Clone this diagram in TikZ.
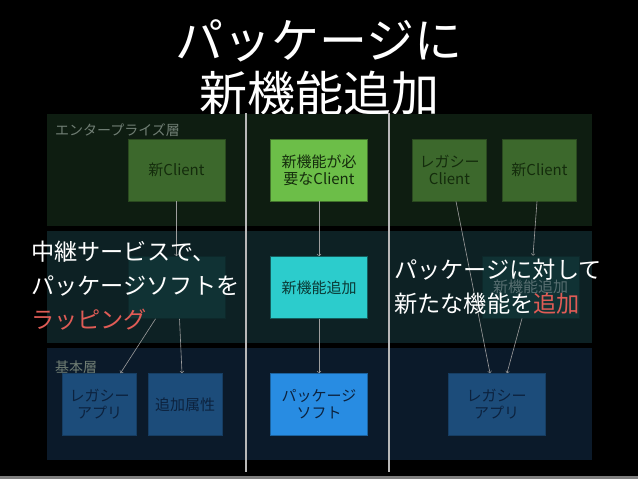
\documentclass[tikz,border=0pt]{standalone}
\usepackage{fontspec}
\setmainfont{Noto Sans CJK JP}
\usetikzlibrary{positioning}
\definecolor{figFond}{RGB}{0,0,0}
\definecolor{figVertCouche}{RGB}{14,29,17}
\definecolor{figTealCouche}{RGB}{13,33,36}
\definecolor{figBleuCouche}{RGB}{11,26,42}
\definecolor{figVertTerne}{RGB}{60,104,44}
\definecolor{figVertVif}{RGB}{108,190,72}
\definecolor{figVertTexte}{RGB}{20,44,12}
\definecolor{figCyan}{RGB}{44,204,204}
\definecolor{figCyanTexte}{RGB}{10,58,54}
\definecolor{figTealTerne}{RGB}{16,50,52}
\definecolor{figBleuTerne}{RGB}{28,76,122}
\definecolor{figBleuVif}{RGB}{40,140,226}
\definecolor{figBleuTexte}{RGB}{12,34,62}
\definecolor{figRouge}{RGB}{224,92,86}
\definecolor{figGris}{RGB}{112,126,116}

\begin{document}
\begin{tikzpicture}[
  x=1pt, y=-1pt, every node/.style={font=\normalsize},
  titre/.style={text=white, font=\fontsize{48}{52}\selectfont, inner sep=0pt},
  couche/.style={minimum width=545, minimum height=112, inner sep=0pt},
  etiq/.style={text=figGris, font=\fontsize{14}{16}\selectfont, anchor=west, inner sep=0pt},
  bloc/.style={minimum width=97, minimum height=62, align=center, inner sep=2pt,
               line width=0.8pt, font=\fontsize{15}{17}\selectfont},
  petit/.style={bloc, minimum width=74},
  fleche/.style={->, line width=0.6pt, draw=white!62!black},
  separ/.style={line width=1.5pt, draw=white!72!black},
  legende/.style={text=white, align=left, anchor=west, inner sep=0pt,
                  font=\fontsize{23.2}{34}\selectfont}
]
\fill[figFond] (0,0) rectangle (638,479);
\fill[white!50!black] (0,476) rectangle (638,479);

\node[titre] (titre1) at (319,41) {パッケージに};
\node[titre] (titre2) at (319,93) {新機能追加};

\node[couche, fill=figVertCouche] (entreprise) at (319.5,170) {};
\node[couche, fill=figTealCouche] (milieu) at (319.5,287) {};
\node[couche, fill=figBleuCouche] (base) at (319.5,404) {};
\node[etiq] (lentreprise) at (55,130) {エンタープライズ層};
\node[etiq] (lbase) at (55,367) {基本層};

\draw[separ] (246,113) -- (246,472);
\draw[separ] (389,113) -- (389,472);

\node[bloc, fill=figVertTerne, draw=figVertTerne!70!black, text=figVertTexte]
     (clientG) at (176.5,170) {新Client};
\node[bloc, fill=figTealTerne, draw=figTealTerne!80!black] (relaisG) at (176.5,287.5) {};
\node[petit, fill=figBleuTerne, draw=figBleuTerne!80!black, text=figBleuTexte]
     (legacyG) at (99.5,404.5) {レガシー\\アプリ};
\node[petit, fill=figBleuTerne, draw=figBleuTerne!80!black, text=figBleuTexte]
     (attrG) at (185,404.5) {追加属性};

\node[bloc, fill=figVertVif, draw=figVertVif!60!black, text=figVertTexte]
     (besoin) at (319,170) {新機能が必\\要なClient};
\node[bloc, fill=figCyan, draw=figCyan!45!black, text=figCyanTexte]
     (ajout) at (319,287.5) {新機能追加};
\node[bloc, fill=figBleuVif, draw=figBleuVif!70!black, text=figBleuTexte]
     (paquet) at (319,404.5) {パッケージ\\ソフト};

\node[petit, fill=figVertTerne, draw=figVertTerne!70!black, text=figVertTexte]
     (legacyClientD) at (449.5,170) {レガシー\\Client};
\node[petit, fill=figVertTerne, draw=figVertTerne!70!black, text=figVertTexte]
     (clientD) at (539.5,170) {新Client};
\node[bloc, fill=figTealTerne, draw=figTealTerne!80!black, text=figTealTerne!70!white]
     (ajoutD) at (530.5,287) {新機能追加};
\node[bloc, fill=figBleuTerne, draw=figBleuTerne!80!black, text=figBleuTexte]
     (legacyD) at (496.5,404.5) {レガシー\\アプリ};

\draw[fleche] (clientG.south) -- (relaisG.north);
\draw[fleche] ([xshift=-21]relaisG.south) -- ([xshift=21]legacyG.north);
\draw[fleche] ([xshift=3]relaisG.south) -- ([xshift=-3]attrG.north);
\draw[fleche] (besoin.south) -- (ajout.north);
\draw[fleche] (ajout.south) -- (paquet.north);
\draw[fleche] ([xshift=6.5]legacyClientD.south) -- ([xshift=-6.5]legacyD.north);
\draw[fleche] ([xshift=-2.5]clientD.south) -- ([xshift=2.5]ajoutD.north);
\draw[fleche] ([xshift=-8.5]ajoutD.south) -- ([xshift=10.5]legacyD.north);

\node[legende] (texteG) at (31,286)
     {中継サービスで、\\パッケージソフトを\\\textcolor{figRouge}{ラッピング}};
\node[legende] (texteD) at (394,287)
     {パッケージに対して\\新たな機能を\textcolor{figRouge}{追加}};
\end{tikzpicture}
\end{document}
